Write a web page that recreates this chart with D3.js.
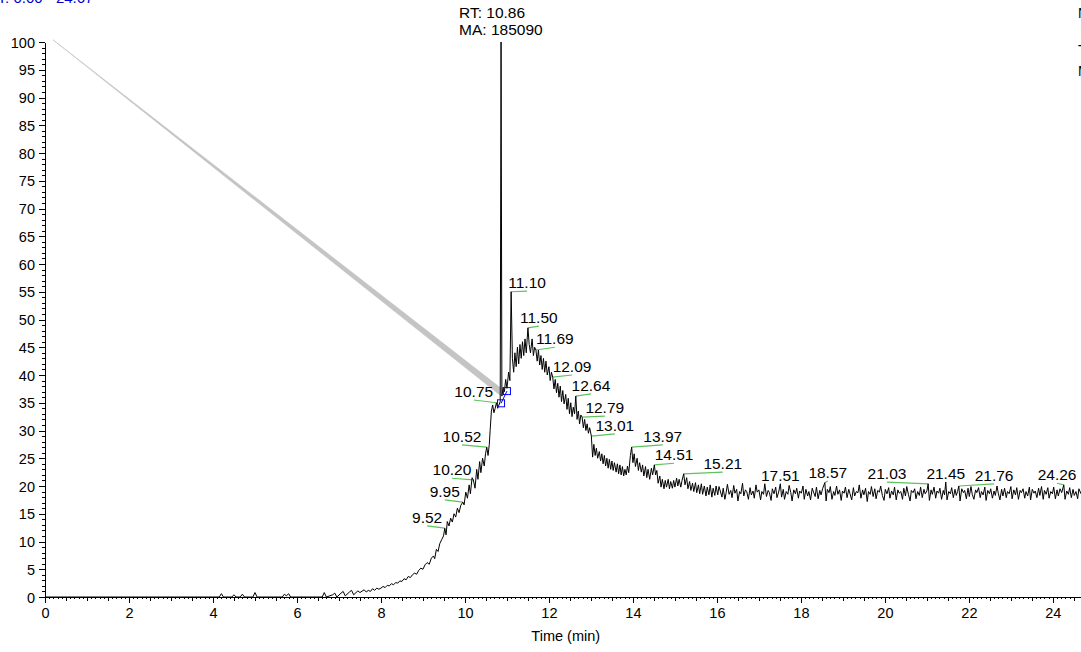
<!DOCTYPE html>
<html>
<head>
<meta charset="utf-8">
<style>
  body { margin: 0; background: #fff; }
  svg { display: block; font-family: "Liberation Sans", Arial, sans-serif; }
  .axis path, .axis line { stroke: #000; shape-rendering: crispEdges; }
  .axis text { font-size: 14.5px; fill: #000; }
</style>
</head>
<body>
<svg width="1081" height="652"></svg>
<script src="https://cdn.jsdelivr.net/npm/d3@7/dist/d3.min.js"></script>
<script>

// scan data: [time (min), relative abundance]
var baseScan = [
  [0,0],[4.15,0],[4.2,0.6],[4.25,0],[4.45,0],[4.5,0.4],[4.55,0],[4.65,0],[4.7,0.5],[4.75,0],
  [4.95,0],[5.0,0.8],[5.05,0],[5.65,0],[5.7,0.5],[5.75,0.2],[5.8,0.6],[5.85,0],[6.6,0],[6.65,0.8],
  [6.7,0],[6.85,0.4],[6.9,0.7],[6.95,0],[7.05,0.7],[7.1,1.0],[7.15,0.2],[7.25,0.9],[7.3,1.2],[7.35,0.4],
  [7.45,1.1],[7.5,0.8],[7.6,1.3],[7.65,0.9],[7.7,1.2],[7.75,1.0],[7.8,1.5],[7.85,1.2],[7.9,1.6],[7.95,1.4]
];

var riseScan = [
  [8.0,1.6],[8.05,1.9],[8.1,1.7],[8.15,2.1],[8.2,2.0],[8.25,2.4],[8.3,2.2],[8.35,2.6],[8.4,2.5],[8.45,2.9],
  [8.5,2.8],[8.55,3.3],[8.6,3.1],[8.65,3.7],[8.7,3.5],[8.75,4.0],[8.8,4.3],[8.85,4.1],[8.9,4.8],[8.95,5.2],
  [9.0,5.0],[9.05,5.8],[9.1,6.2],[9.15,5.9],[9.2,7.0],[9.25,7.4],[9.28,6.9],[9.32,8.6],[9.36,8.2],[9.4,9.6],
  [9.45,10.4],[9.49,11.0],[9.52,12.4],[9.55,11.2],[9.58,13.6],[9.62,12.8],[9.66,14.2],[9.7,13.5],[9.74,15.0],[9.78,14.4],
  [9.82,16.0],[9.86,15.2],[9.9,16.5],[9.95,17.1],[9.98,16.6],[10.02,18.9],[10.06,17.8],[10.1,20.2],[10.13,18.6],[10.17,21.5],
  [10.2,21.1],[10.24,19.6],[10.28,23.0],[10.31,21.2],[10.35,24.4],[10.38,22.4],[10.42,25.0],[10.46,23.6],[10.49,25.8],[10.52,27.0],
  [10.55,25.5],[10.58,27.5],[10.6,30.0],[10.63,33.5],[10.66,34.6],[10.69,33.2],[10.72,34.0],[10.75,35.0],[10.78,34.0],[10.81,34.6],
  [10.84,35.2],[10.86,100],[10.88,36.2],[10.91,37.8],[10.94,37.0],[10.97,39.2],[11.0,37.6],[11.04,40.5],[11.07,39.0],[11.10,55.0],
  [11.13,43.0],[11.16,40.5],[11.19,44.0],[11.22,41.5],[11.25,45.0],[11.28,42.0],[11.31,45.5],[11.34,43.0],[11.37,46.0],[11.40,43.5],
  [11.43,46.5],[11.46,44.0],[11.50,48.5],[11.53,45.5],[11.56,44.0],[11.60,46.5],[11.63,43.5],[11.66,45.0],[11.69,44.5],[11.72,42.5],
  [11.75,44.5],[11.78,41.8],[11.81,43.5],[11.84,41.0],[11.87,43.0],[11.90,40.5],[11.93,42.5],[11.96,40.0],[12.00,41.5],[12.03,39.0],
  [12.06,40.5],[12.09,39.6],[12.12,37.5],[12.15,39.2],[12.18,36.8],[12.21,38.5],[12.24,36.0],[12.27,38.0],[12.30,35.2],[12.33,37.2],
  [12.36,34.8],[12.40,36.5],[12.43,33.8],[12.46,35.8],[12.49,33.0],[12.52,35.0],[12.55,32.5],[12.58,34.2],[12.61,33.0],[12.64,36.2],
  [12.67,32.0],[12.70,33.5],[12.73,31.2],[12.76,32.8],[12.79,32.4],[12.82,30.5],[12.85,32.0],[12.88,30.0],[12.91,31.2],[12.94,29.5],
  [12.97,30.5],[13.01,29.0],[13.04,25.2],[13.07,27.5],[13.10,25.5],[13.13,26.8],[13.16,25.0]
];

var tailScan = [
  [13.20,26.2],[13.23,24.5],[13.26,25.8],[13.29,24.0],[13.32,25.5],[13.35,23.6],[13.38,25.0],[13.41,23.2],[13.44,24.8],[13.47,23.0],
  [13.50,24.5],[13.53,22.8],[13.56,24.2],[13.60,22.5],[13.63,24.0],[13.66,22.2],[13.69,23.8],[13.72,22.0],[13.75,23.5],[13.78,21.8],
  [13.81,23.0],[13.84,22.0],[13.87,23.6],[13.90,22.4],[13.94,25.5],[13.97,27.0],[14.00,24.2],[14.03,25.8],[14.06,23.5],[14.10,25.0],
  [14.13,22.8],[14.16,24.2],[14.20,22.5],[14.23,23.8],[14.26,21.8],[14.30,23.5],[14.33,21.5],[14.36,23.0],[14.40,21.2],[14.44,23.2],
  [14.47,22.0],[14.51,23.8],[14.54,22.0],[14.57,22.8],[14.60,20.5],[14.64,21.8],[14.67,19.8],[14.70,21.2],[14.74,19.5],[14.77,21.0],
  [14.80,19.8],[14.84,21.2],[14.87,19.5],[14.90,20.8],[14.94,19.6],[14.97,21.0],[15.00,19.8],[15.04,21.4],[15.07,20.0],[15.10,21.2],
  [15.14,19.8],[15.17,21.0],[15.21,22.2],[15.24,20.2],[15.28,21.5],[15.31,19.5],[15.35,20.8],[15.38,19.2],[15.42,20.5],[15.45,19.0],
  [15.49,20.6],[15.52,18.8],[15.56,20.2],[15.59,18.6],[15.63,20.4],[15.66,18.5],[15.70,20.0],[15.74,18.2],[15.77,19.8],[15.81,18.4],
  [15.84,20.2],[15.88,18.0],[15.91,19.6],[15.95,18.3],[15.98,20.0],[16.02,18.4],[16.05,19.9],[16.08,19.1],[16.12,18.0],[16.15,19.6],
  [16.19,17.6],[16.22,18.8],[16.25,20.3],[16.29,18.5],[16.33,19.2],[16.36,17.9],[16.40,20.1],[16.43,18.7],[16.47,19.4],[16.50,17.3],
  [16.54,19.0],[16.57,18.6],[16.61,20.5],[16.64,18.2],[16.68,19.3],[16.71,19.0],[16.75,17.6],[16.79,19.7],[16.82,18.4],[16.86,19.1],
  [16.89,17.8],[16.93,20.2],[16.96,18.9],[17.00,19.3],[17.04,17.5],[17.07,19.0],[17.11,18.5],[17.14,20.4],[17.18,18.1],[17.22,19.2],
  [17.25,18.8],[17.29,17.4],[17.32,19.5],[17.36,18.6],[17.40,19.8],[17.43,17.9],[17.47,18.9],[17.51,20.4],[17.54,18.0],[17.58,19.4],
  [17.61,17.6],[17.65,19.0],[17.69,18.5],[17.72,20.1],[17.76,18.8],[17.79,17.3],[17.83,19.3],[17.87,18.6],[17.90,19.6],[17.94,17.8],
  [17.97,19.1],[18.01,18.7],[18.05,20.0],[18.08,17.6],[18.12,19.4],[18.16,18.2],[18.19,19.0],[18.23,17.5],[18.27,19.6],[18.30,18.9],
  [18.34,18.1],[18.37,19.8],[18.41,17.7],[18.45,19.2],[18.48,18.4],[18.52,19.6],[18.57,20.6],[18.60,17.3],[18.63,19.4],[18.67,18.8],
  [18.70,19.9],[18.74,17.6],[18.78,19.0],[18.81,18.3],[18.85,20.0],[18.88,18.5],[18.92,19.3],[18.96,17.4],[18.99,19.1],[19.03,18.7],
  [19.06,19.8],[19.10,17.9],[19.14,19.4],[19.17,18.6],[19.21,17.5],[19.25,19.7],[19.28,18.2],[19.32,19.0],[19.36,18.8],[19.39,20.2],
  [19.43,17.8],[19.47,19.3],[19.50,18.4],[19.54,19.6],[19.58,17.2],[19.61,19.0],[19.65,18.5],[19.68,19.9],[19.72,18.1],[19.76,19.5],
  [19.79,17.7],[19.83,19.2],[19.87,18.9],[19.90,20.0],[19.94,18.3],[19.98,17.4],[20.01,19.4],[20.05,18.6],[20.09,19.7],[20.12,17.8],
  [20.16,19.1],[20.20,18.4],[20.23,19.8],[20.27,17.5],[20.31,19.3],[20.34,18.7],[20.38,19.0],[20.42,17.6],[20.45,19.6],[20.49,18.2],
  [20.52,19.9],[20.56,18.5],[20.60,17.3],[20.63,19.2],[20.67,18.8],[20.71,19.5],[20.74,17.7],[20.78,19.0],[20.82,18.3],[20.85,19.8],
  [20.89,17.9],[20.93,19.4],[20.96,18.6],[21.00,19.1],[21.03,20.4],[21.06,17.4],[21.10,19.3],[21.13,18.5],[21.17,19.8],[21.21,17.8],
  [21.24,19.1],[21.28,18.7],[21.31,19.6],[21.35,17.6],[21.39,19.2],[21.42,18.4],[21.45,20.7],[21.48,17.5],[21.52,19.0],[21.56,18.6],
  [21.59,19.7],[21.63,17.9],[21.67,19.4],[21.70,18.3],[21.73,19.0],[21.76,20.0],[21.79,17.3],[21.83,19.5],[21.87,18.8],[21.90,19.2],
  [21.94,17.7],[21.98,19.6],[22.01,18.1],[22.05,19.9],[22.08,18.5],[22.12,17.6],[22.16,19.3],[22.19,18.8],[22.23,19.7],[22.27,17.9],
  [22.30,19.0],[22.34,18.4],[22.38,19.8],[22.41,17.4],[22.45,19.2],[22.49,18.6],[22.52,19.5],[22.56,17.8],[22.60,19.1],[22.63,18.3],
  [22.67,20.0],[22.70,18.7],[22.74,17.5],[22.78,19.4],[22.81,18.2],[22.85,19.6],[22.89,17.9],[22.92,19.0],[22.96,18.6],[23.00,19.9],
  [23.03,17.7],[23.07,19.3],[23.11,18.4],[23.14,19.7],[23.18,17.6],[23.22,19.2],[23.25,18.8],[23.29,19.5],[23.33,17.8],[23.36,19.0],
  [23.40,18.2],[23.44,19.8],[23.47,17.5],[23.51,19.4],[23.55,18.7],[23.58,19.1],[23.62,17.9],[23.66,19.6],[23.69,18.3],[23.73,19.9],
  [23.77,17.6],[23.80,19.2],[23.84,18.5],[23.88,19.7],[23.91,17.8],[23.95,19.0],[23.99,18.6],[24.02,19.8],[24.06,17.7],[24.10,19.3],
  [24.13,18.2],[24.17,19.5],[24.21,18.8],[24.26,20.2],[24.29,17.6],[24.33,19.1],[24.37,18.5],[24.40,19.7],[24.44,17.9],[24.48,19.4],
  [24.51,18.3],[24.55,19.0],[24.59,17.7],[24.62,19.5],[24.67,18.6]
];

// peak labels: retention time, apex height, label anchor (time, abundance)
var labelRT     = [9.52, 9.95, 10.20, 10.52, 10.75, 11.10, 11.50, 11.69, 12.09, 12.64, 12.79, 13.01, 13.97, 14.51, 15.21, 17.51, 18.57, 21.03, 21.45, 21.76, 24.26];
var labelHeight = [12.4, 17.1, 21.1, 27.0, 35.0, 55.0, 48.5, 44.5, 39.6, 36.2, 32.4, 29.0, 27.0, 23.8, 22.2, 20.4, 20.6, 20.4, 20.7, 20.0, 20.2];
var labelAtX    = [9.10, 9.52, 9.69, 9.93, 10.21, 11.48, 11.76, 12.14, 12.55, 13.00, 13.33, 13.57, 14.71, 14.98, 16.14, 17.51, 18.64, 20.05, 21.45, 22.60, 24.10];
var labelAtY    = [12.8, 17.5, 21.4, 27.4, 35.5, 55.1, 48.8, 45.0, 40.0, 36.6, 32.6, 29.4, 27.4, 24.1, 22.5, 20.4, 20.9, 20.7, 20.7, 20.4, 20.5];

// base peak annotation
var basePeakRT = 10.86, basePeakArea = 185090, basePeakHeight = 100;
var peakStart = [10.86, 34.9], peakEnd = [11.00, 37.1];

// gray fan from the top of the scale to the peak start
var fanApex = [0.19, 100.4], fanTop = [10.83, 37.8], fanBottom = [10.83, 36.4];

var timeRange = [0, 24.67];
var xMajor = d3.range(0, 25, 2);

var svg = d3.select("svg"),
    margin = {top: 42, right: 0, bottom: 55, left: 45},
    width = +svg.attr("width") - margin.left - margin.right,
    height = +svg.attr("height") - margin.top - margin.bottom,
    g = svg.append("g").attr("transform", "translate(" + margin.left + "," + margin.top + ")");

var x = d3.scaleLinear().domain(timeRange).range([0, width]);
var y = d3.scaleLinear().domain([0, 100]).range([height, 0]);

var scan = baseScan.concat(riseScan, tailScan);

// header text, partly cut off by the page edge
svg.append("text")
    .attr("x", -13).attr("y", 3)
    .attr("fill", "#0000cc")
    .style("font-size", "15px")
    .text("RT: " + timeRange[0].toFixed(2) + " - " + timeRange[1].toFixed(2));

svg.selectAll(".side")
    .data(["NL:", "TIC", "MS"])
  .enter().append("text")
    .attr("x", 1078)
    .attr("y", function(d, i) { return [18, 55, 76][i]; })
    .attr("fill", "#000")
    .style("font-size", "14px")
    .text(function(d) { return d; });

// gray fan
g.append("path")
    .datum([fanApex, fanTop, fanBottom])
    .attr("fill", "#c4c4c4")
    .attr("stroke", "#c4c4c4")
    .attr("stroke-width", 0.6)
    .attr("d", d3.line().x(function(d) { return x(d[0]); }).y(function(d) { return y(d[1]); }).curve(d3.curveLinearClosed));

// axes
var yMinor = g.append("g").attr("class", "axis")
    .call(d3.axisLeft(y).tickValues(d3.range(0, 101, 1)).tickSize(3).tickSizeOuter(0).tickFormat(""));
yMinor.select(".domain").remove();

g.append("g").attr("class", "axis")
    .call(d3.axisLeft(y).tickValues(d3.range(0, 101, 5)).tickSize(6).tickSizeOuter(0).tickPadding(4))
    .selectAll("text").attr("dy", "0.36em");

var xg = g.append("g").attr("class", "axis").attr("transform", "translate(0," + height + ")");
xg.append("g").call(d3.axisBottom(x).tickValues(d3.range(0, 246, 1).map(function(i) { return i / 10; })).tickSize(2).tickSizeOuter(0).tickFormat(""))
    .select(".domain").remove();
xg.append("g").call(d3.axisBottom(x).tickValues(d3.range(0, 50, 1).map(function(i) { return i / 2; })).tickSize(4).tickSizeOuter(0).tickFormat(""))
    .select(".domain").remove();
xg.append("g").call(d3.axisBottom(x).tickValues(xMajor).tickSize(6).tickSizeOuter(0).tickPadding(5).tickFormat(d3.format("d")));

g.append("text")
    .attr("x", x(12.4)).attr("y", height + 44)
    .attr("text-anchor", "middle")
    .style("font-size", "14.5px")
    .text("Time (min)");

// green leader lines
g.selectAll(".leader")
    .data(labelRT)
  .enter().append("line")
    .attr("x1", function(d, i) { return x(d); })
    .attr("y1", function(d, i) { return y(labelHeight[i]); })
    .attr("x2", function(d, i) { return x(labelAtX[i]); })
    .attr("y2", function(d, i) { return y(labelAtY[i]); })
    .attr("stroke", "#5cc25c")
    .attr("stroke-width", 1.2);

// trace
g.append("path")
    .datum(scan)
    .attr("fill", "none")
    .attr("stroke", "#000")
    .attr("stroke-width", 1)
    .attr("stroke-linejoin", "round")
    .attr("d", d3.line().x(function(d) { return x(d[0]); }).y(function(d) { return y(d[1]); }));

// peak baseline with markers
g.append("line")
    .attr("x1", x(peakStart[0])).attr("y1", y(peakStart[1]))
    .attr("x2", x(peakEnd[0])).attr("y2", y(peakEnd[1]))
    .attr("stroke", "#0000ff");
g.selectAll(".mark")
    .data([peakStart, peakEnd])
  .enter().append("rect")
    .attr("x", function(d) { return x(d[0]) - 3.5; })
    .attr("y", function(d) { return y(d[1]) - 3.5; })
    .attr("width", 7).attr("height", 7)
    .attr("fill", "none")
    .attr("stroke", "#0000ff");

// peak labels
g.selectAll(".plabel")
    .data(labelRT)
  .enter().append("text")
    .attr("x", function(d, i) { return x(labelAtX[i]); })
    .attr("y", function(d, i) { return y(labelAtY[i]) - 3; })
    .attr("text-anchor", "middle")
    .style("font-size", "15.5px")
    .text(function(d) { return d.toFixed(2); });

var rt = g.append("text")
    .attr("x", x(basePeakRT) - 42)
    .attr("y", y(basePeakHeight) - 24)
    .style("font-size", "15.5px");
rt.append("tspan").attr("x", x(basePeakRT) - 42).text("RT: " + basePeakRT.toFixed(2));
rt.append("tspan").attr("x", x(basePeakRT) - 42).attr("dy", 17).text("MA: " + basePeakArea);

</script>
</body>
</html>
